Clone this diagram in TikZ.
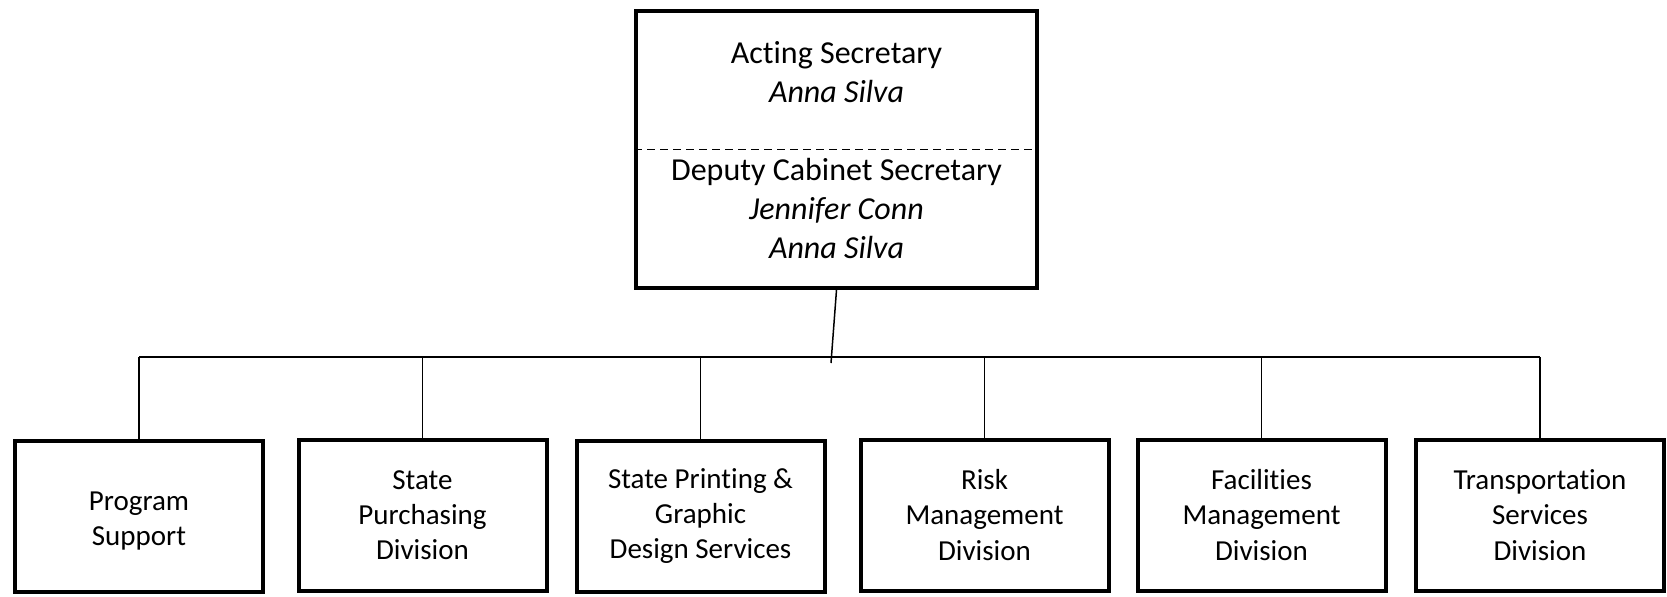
\documentclass[tikz,border=0pt]{standalone}
\usepackage{fontspec}
\setmainfont{Carlito}[Ligatures=NoCommon]
\begin{document}
\begin{tikzpicture}[x=0.5pt,y=-0.5pt,
  frame/.style={draw, line width=2pt, inner sep=0pt},
  unitfont/.style={align=center, font=\fontsize{14.5}{17.6}\selectfont},
  unit/.style={frame, minimum width=124pt, minimum height=75.5pt, unitfont},
  headtext/.style={align=center, font=\fontsize{16}{19.3}\selectfont, inner sep=0pt},
  link/.style={line width=0.75pt}]
\useasboundingbox (0,0) rectangle (1667,596);

% head office
\node[frame, minimum width=200.5pt, minimum height=138.75pt] (head) at (836.5,149.25) {};
\draw[line width=0.75pt, dash pattern=on 4pt off 2.5pt] (head.west) -- (head.east);
\node[headtext] (acting) at (836.5,72) {Acting Secretary\\\textit{Anna Silva}};
\node[headtext] (deputy) at (836.5,208.5) {Deputy Cabinet Secretary\\\textit{Jennifer Conn}\\\textit{Anna Silva}};

% divisions
\node[unit] (u1) at (139,516) {};
\node[unitfont, inner sep=0pt] (u1text) at ([yshift=-2.7pt]u1.center) {Program\\Support};
\node[unit] (u2) at (422.5,515)  {State\\Purchasing\\Division};
\node[unit] (u3) at (700.5,516)  {State Printing \&\\Graphic\\Design Services};
\node[unit] (u4) at (984.5,515)  {Risk\\Management\\Division};
\node[unit] (u5) at (1261.5,515) {Facilities\\Management\\Division};
\node[unit] (u6) at (1540,515)   {Transportation\\Services\\Division};

% connectors
\coordinate (bus) at (0,357);
\coordinate (hub) at (831,363);
\draw[link] (head.south) -- (hub);
\draw[link] (u1.north |- bus) -- (u6.north |- bus);
\foreach \u in {u1,u2,u3,u4,u5,u6}
  \draw[link] (\u.north) -- (\u.north |- bus);
\end{tikzpicture}
\end{document}
